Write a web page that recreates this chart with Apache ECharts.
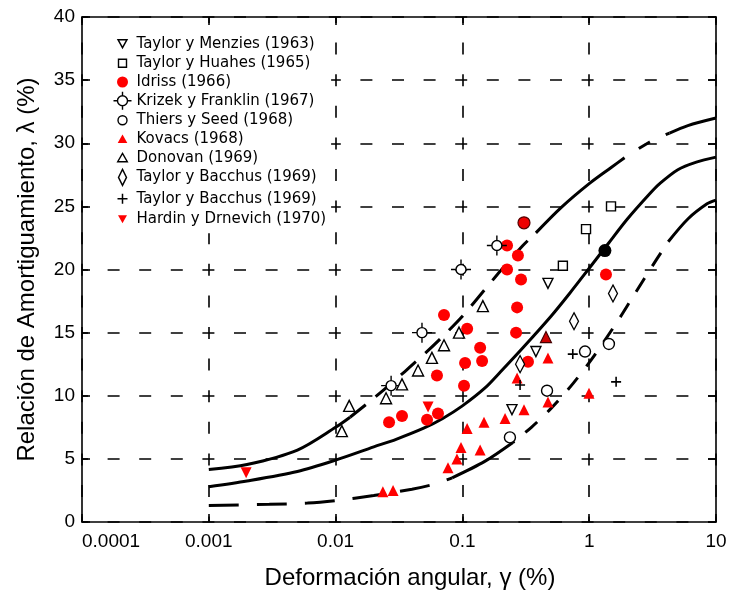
<!DOCTYPE html>
<html>
<head>
<meta charset="utf-8">
<script src="https://cdn.jsdelivr.net/npm/echarts@6/dist/echarts.min.js"></script>
<style>html,body{margin:0;padding:0;background:#fff}#c{width:732px;height:595px}</style>
</head>
<body>
<div id="c"></div>
<script>
// ---------- data ----------
const xTickLabels = ['0.0001', '0.001', '0.01', '0.1', '1', '10'];
const xAxisTitle = 'Deformación angular, \u03b3 (%)';
const yAxisTitle = 'Relación de Amortiguamiento, \u03bb (%)';

const taylorMenzies = [[0.473, 18.9], [0.380, 13.5], [0.246, 8.9]];
const taylorHuahes = [[0.62, 20.3], [0.944, 23.2], [1.486, 25.0]];
const idriss = [
  [0.225, 21.9], [0.274, 21.1], [0.225, 20.0], [0.290, 19.2], [0.270, 17.0],
  [0.0716, 16.4], [0.109, 15.3], [0.265, 15.0], [0.138, 13.8], [0.105, 12.6],
  [0.143, 12.75], [0.329, 12.7], [0.063, 11.6], [0.103, 10.8], [0.0264, 7.9],
  [0.0334, 8.4], [0.0526, 8.1], [0.0642, 8.6], [1.356, 19.6]
];
const idrissDark = [[0.306, 23.7]];
const krizek = [[0.187, 21.9], [0.0975, 20.0], [0.048, 15.0], [0.0274, 10.8]];
const thiers = [[0.927, 13.5], [1.43, 14.1], [0.465, 10.4], [0.237, 6.7]];
const kovacs = [
  [0.473, 13.0], [0.270, 11.4], [0.306, 8.9], [0.473, 9.5], [0.996, 10.2],
  [0.217, 8.2], [0.148, 7.9], [0.109, 7.4], [0.0975, 5.9], [0.138, 5.7],
  [0.0906, 5.0], [0.077, 4.3], [0.0236, 2.4], [0.0284, 2.5]
];
const kovacsDark = [[0.456, 14.65]];
const donovan = [
  [0.0112, 7.2], [0.0128, 9.2], [0.0250, 9.8], [0.0334, 10.9], [0.0447, 12.0],
  [0.0575, 13.0], [0.0716, 14.0], [0.094, 15.0], [0.145, 17.1]
];
const bacchusDiamond = [[0.285, 12.5], [0.759, 15.9], [1.54, 18.1]];
const bacchusPlus = [[0.742, 13.3], [0.285, 10.85], [1.63, 11.1]];
const hardin = [[0.00197, 3.9], [0.0536, 9.1]];
const blackPoint = [[1.33, 21.5]];

const upperCurve = [
  [0.001, 4.15], [0.002, 4.55], [0.005, 5.7], [0.01, 7.5], [0.013, 8.3],
  [0.02, 9.8], [0.035, 11.9], [0.05, 13.3], [0.07, 14.7], [0.1, 16.3],
  [0.15, 18.4], [0.2, 19.9], [0.3, 21.9], [0.38, 22.9], [0.6, 24.9],
  [1, 26.8], [1.5, 28.1], [1.9, 28.85], [3, 30.1], [4.3, 30.8],
  [6, 31.4], [10, 32.0]
];
const middleCurve = [
  [0.001, 2.8], [0.002, 3.25], [0.005, 4.0], [0.01, 4.9], [0.02, 5.95],
  [0.03, 6.55], [0.05, 7.45], [0.07, 8.2], [0.1, 9.2], [0.15, 10.6],
  [0.2, 11.9], [0.3, 13.8], [0.5, 16.3], [0.7, 18.1], [1, 20.1],
  [1.4, 22.0], [2, 24.0], [3, 26.0], [3.6, 26.8], [5, 27.9],
  [7, 28.5], [10, 28.9]
];
const lowerCurve = [
  [0.001, 1.3], [0.003, 1.4], [0.006, 1.5], [0.01, 1.7], [0.02, 2.1],
  [0.04, 2.6], [0.06, 3.0], [0.083, 3.5], [0.15, 4.8], [0.25, 6.3],
  [0.35, 7.5], [0.5, 9.0], [0.75, 11.0], [1.1, 13.2], [1.75, 16.2],
  [2.2, 17.8], [3.4, 20.8], [4.2, 22.2], [6, 24.0], [8.5, 25.2], [10, 25.5]
];

// ---------- styling ----------
const FONT = 'Liberation Sans';
const sliceCurve = (c, a, b) => c.filter(p => p[0] >= a - 1e-12 && p[0] <= b + 1e-12);
const curveSeries = (c, a, b, type, offset) => ({
  type: 'line', data: sliceCurve(c, a, b), smooth: 0.3, symbol: 'none', z: 2,
  silent: true, legendHoverLink: false,
  lineStyle: { color: '#000', width: 3, type: type || 'solid', dashOffset: offset || 0, cap: 'butt' }
});

const openStyle = { color: '#fff', borderColor: '#000', borderWidth: 1.4, opacity: 1 };
const redStyle = { color: '#ff0000', opacity: 1 };
const krizekPath = 'path://M0,-10V-5M0,5V10M-10,0H-5M5,0H10M-5,0A5,5,0,1,0,5,0A5,5,0,1,0,-5,0Z';
const plusPath = 'path://M0,-5V5M-5,0H5';

// legend icons (padded to an 18x18 box)
const pad = 'path://M-9,-9M9,9';
const icons = {
  invTri: pad + 'M-4.5,-4L4.5,-4L0,4Z',
  tri: pad + 'M0,-4.5L4.8,3.8L-4.8,3.8Z',
  square: pad + 'M-4,-4H4V4H-4Z',
  dot: pad + 'M-5.5,0A5.5,5.5,0,1,0,5.5,0A5.5,5.5,0,1,0,-5.5,0Z',
  ring: pad + 'M-4.5,0A4.5,4.5,0,1,0,4.5,0A4.5,4.5,0,1,0,-4.5,0Z',
  krizek: pad + 'M0,-9V-5M0,5V9M-9,0H-5M5,0H9M-5,0A5,5,0,1,0,5,0A5,5,0,1,0,-5,0Z',
  diamond: pad + 'M0,-8L4,0L0,8L-4,0Z',
  plus: pad + 'M0,-5V5M-5,0H5'
};

const names = [
  'Taylor y Menzies (1963)', 'Taylor y Huahes (1965)', 'Idriss (1966)',
  'Krizek y Franklin (1967)', 'Thiers y Seed (1968)', 'Kovacs (1968)',
  'Donovan (1969)', 'Taylor y Bacchus (1969)', 'Taylor y Bacchus (1969) ',
  'Hardin y Drnevich (1970)'
];
const openLeg = { color: '#fff', borderColor: '#000', borderWidth: 1.4, opacity: 1 };
const redLeg = { color: '#ff0000', borderWidth: 0, opacity: 1 };
const legendData = [
  { name: names[0], icon: icons.invTri, itemStyle: openLeg },
  { name: names[1], icon: icons.square, itemStyle: openLeg },
  { name: names[2], icon: icons.dot, itemStyle: redLeg },
  { name: names[3], icon: icons.krizek, itemStyle: openLeg },
  { name: names[4], icon: icons.ring, itemStyle: openLeg },
  { name: names[5], icon: icons.tri, itemStyle: redLeg },
  { name: names[6], icon: icons.tri, itemStyle: openLeg },
  { name: names[7], icon: icons.diamond, itemStyle: openLeg },
  { name: names[8], icon: icons.plus, itemStyle: { color: 'none', borderColor: '#000', borderWidth: 1.5, opacity: 1 } },
  { name: names[9], icon: icons.invTri, itemStyle: redLeg }
];

const scatter = (name, data, symbol, size, style, extra) => Object.assign({
  type: 'scatter', name, data, symbol, symbolSize: size, itemStyle: style, z: 5
}, extra || {});

const series = [
  curveSeries(upperCurve, 0.001, 0.013),
  curveSeries(upperCurve, 0.013, 0.38, [20, 13], 0),
  curveSeries(upperCurve, 0.38, 1.9),
  curveSeries(upperCurve, 1.9, 4.3, [13, 17], 13),
  curveSeries(upperCurve, 4.3, 10),
  curveSeries(middleCurve, 0.001, 10),
  curveSeries(lowerCurve, 0.001, 0.083, [30, 18], 0),
  curveSeries(lowerCurve, 0.083, 0.25),
  curveSeries(lowerCurve, 0.25, 4.2, [16, 14], 14),
  curveSeries(lowerCurve, 4.2, 10),

  scatter(names[0], taylorMenzies, 'triangle', 10, openStyle, { symbolRotate: 180 }),
  scatter(names[1], taylorHuahes, 'rect', 9, openStyle),
  scatter(names[2], idriss, 'circle', 12, redStyle),
  scatter(names[3], krizek, krizekPath, 20, openStyle),
  scatter(names[4], thiers, 'circle', 11, openStyle),
  scatter(names[5], kovacs, 'triangle', 11, redStyle),
  scatter(names[6], donovan, 'triangle', 11, openStyle),
  scatter(names[7], bacchusDiamond, 'diamond', [9, 17], openStyle),
  scatter(names[8], bacchusPlus, plusPath, 10, { color: 'none', borderColor: '#000', borderWidth: 1.6, opacity: 1 }),
  scatter(names[9], hardin, 'triangle', 11, redStyle, { symbolRotate: 180 }),

  scatter('idrissDark', idrissDark, 'circle', 12, { color: '#ee0000', borderColor: '#550000', borderWidth: 1.2, opacity: 1 }),
  scatter('kovacsDark', kovacsDark, 'triangle', 11, { color: '#cc0000', borderColor: '#440000', borderWidth: 1.2, opacity: 1 }),
  scatter('black', blackPoint, 'circle', 13, { color: '#000', opacity: 1 })
];

const splitDash = { color: '#000', width: 1.6, type: [12, 19.6], dashOffset: 6 };

const option = {
  animation: false,
  backgroundColor: '#fff',
  grid: { left: 82, right: 16, top: 17, bottom: 73, show: false },
  legend: {
    data: legendData, orient: 'vertical', left: 106, top: 29, padding: 5,
    backgroundColor: '#fff',
    itemWidth: 18, itemHeight: 18, itemGap: 0.1, selectedMode: false,
    textStyle: { fontFamily: 'DejaVu Sans', fontSize: 15, color: '#000', lineHeight: 16 }
  },
  xAxis: [{
    type: 'log', logBase: 10, min: 0.0001, max: 10, position: 'bottom',
    axisLine: { show: true, lineStyle: { color: '#000', width: 1.6 } },
    axisTick: { show: true, inside: true, length: 8, lineStyle: { color: '#000', width: 1.6 } },
    axisLabel: {
      color: '#000', fontFamily: FONT, fontSize: 19, margin: 10, alignMinLabel: 'left',
      formatter: (v, i) => xTickLabels[i] !== undefined ? xTickLabels[i] : ''
    },
    splitLine: { show: true, lineStyle: splitDash },
    minorTick: { show: false },
    name: xAxisTitle, nameLocation: 'middle', nameGap: 44,
    nameTextStyle: { color: '#000', fontFamily: FONT, fontSize: 24, padding: [0, 0, 0, 22] }
  }, {
    type: 'log', logBase: 10, min: 0.0001, max: 10, position: 'top',
    axisLine: { show: true, onZero: false, lineStyle: { color: '#000', width: 1.6 } },
    axisTick: { show: true, inside: true, length: 8, lineStyle: { color: '#000', width: 1.6 } },
    axisLabel: { show: false }, splitLine: { show: false }
  }],
  yAxis: [{
    type: 'value', min: 0, max: 40, interval: 5, position: 'left',
    axisLine: { show: true, lineStyle: { color: '#000', width: 1.6 } },
    axisTick: { show: true, inside: true, length: 8, lineStyle: { color: '#000', width: 1.6 } },
    axisLabel: { color: '#000', fontFamily: FONT, fontSize: 19, margin: 7 },
    splitLine: { show: true, lineStyle: splitDash },
    name: yAxisTitle, nameLocation: 'middle', nameGap: 43, nameRotate: 90,
    nameTextStyle: { color: '#000', fontFamily: FONT, fontSize: 24 }
  }, {
    type: 'value', min: 0, max: 40, interval: 5, position: 'right',
    axisLine: { show: true, onZero: false, lineStyle: { color: '#000', width: 1.6 } },
    axisTick: { show: true, inside: true, length: 8, lineStyle: { color: '#000', width: 1.6 } },
    axisLabel: { show: false }, splitLine: { show: false }
  }],
  series
};

const chart = echarts.init(document.getElementById('c'), null, { renderer: 'canvas' });
chart.setOption(option);
</script>
</body>
</html>
